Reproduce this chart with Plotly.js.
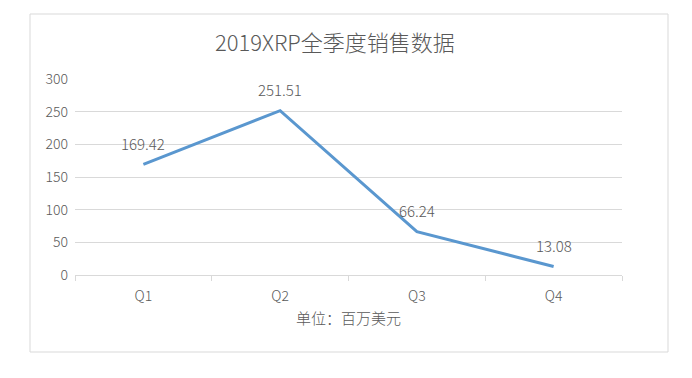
<!DOCTYPE html>
<html>
<head>
<meta charset="utf-8">
<script src="https://cdn.plot.ly/plotly-3.0.1.min.js"></script>
<style>html,body{margin:0;padding:0;background:#fff;}#chart{width:692px;height:378px;}</style>
</head>
<body>
<div id="chart"></div>
<script>
var categories = ["Q1", "Q2", "Q3", "Q4"];
var sales = [169.42, 251.51, 66.24, 13.08];
var labels = ["169.42", "251.51", "66.24", "13.08"];
var yTicks = [0, 50, 100, 150, 200, 250, 300];

var FONT = '"Noto Sans CJK SC", "Noto Sans", sans-serif';
var TXT = '#595959';
var GRID = '#d9d9d9';
var W = 300;

var trace = {
  x: categories,
  y: sales,
  type: 'scatter',
  mode: 'lines',
  line: {color: '#5a97cf', width: 3},
  hoverinfo: 'skip'
};

var annotations = categories.map(function (c, i) {
  return {
    x: c, y: sales[i], xref: 'x', yref: 'y',
    text: labels[i], showarrow: false,
    yshift: 21, yanchor: 'middle',
    font: {family: FONT, size: 15, color: TXT, weight: W}
  };
});

var layout = {
  width: 692, height: 378,
  margin: {l: 75, r: 70, t: 79, b: 103},
  paper_bgcolor: '#ffffff', plot_bgcolor: '#ffffff',
  showlegend: false,
  title: {
    text: '2019XRP全季度销售数据',
    font: {family: FONT, size: 22, color: TXT, weight: W},
    x: 0.484, xanchor: 'center', xref: 'container',
    y: 1 - 43/378, yanchor: 'middle', yref: 'container'
  },
  xaxis: {
    type: 'category',
    tickson: 'boundaries',
    ticks: 'outside', ticklen: 5, tickcolor: GRID, tickwidth: 1,
    showline: true, linecolor: GRID, linewidth: 1,
    showgrid: false, zeroline: false,
    tickfont: {family: FONT, size: 14, color: TXT, weight: W},
    ticklabelstandoff: 8,
    range: [-0.5, 3.5],
    title: {text: '单位：百万美元', font: {family: FONT, size: 15, color: TXT, weight: W}, standoff: 9}
  },
  yaxis: {
    range: [0, 300],
    tickvals: yTicks,
    showgrid: true, gridcolor: GRID, gridwidth: 1,
    zeroline: false, showline: false, ticks: '',
    tickfont: {family: FONT, size: 14, color: TXT, weight: W},
    ticklabelstandoff: 6
  },
  annotations: annotations,
  shapes: [{
    type: 'rect', xref: 'paper', yref: 'paper',
    x0: (30 - 75) / 547, x1: (668 - 75) / 547,
    y0: (275 - 352) / 196, y1: (275 - 14) / 196,
    line: {color: GRID, width: 1}, fillcolor: 'rgba(0,0,0,0)', layer: 'below'
  }]
};

Plotly.newPlot('chart', [trace], layout, {displayModeBar: false, staticPlot: true});
</script>
</body>
</html>
